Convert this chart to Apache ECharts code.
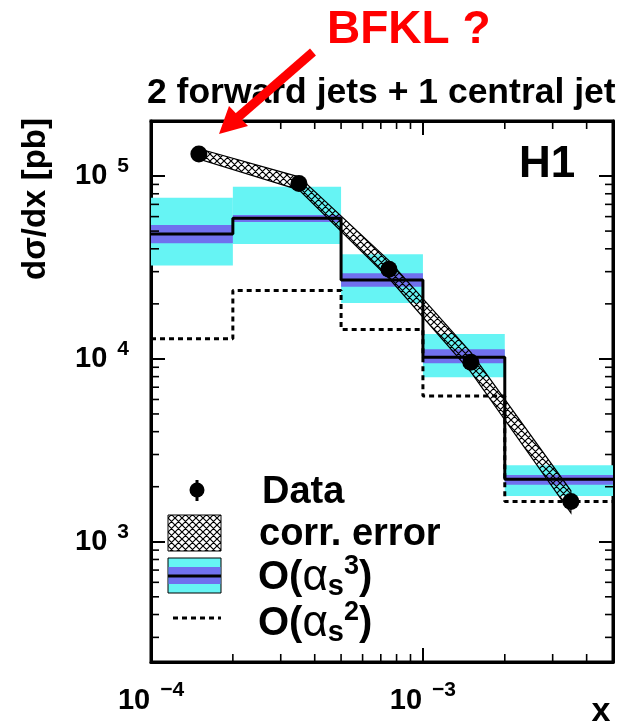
<!DOCTYPE html>
<html>
<head>
<meta charset="utf-8">
<script src="https://cdn.jsdelivr.net/npm/echarts@6/dist/echarts.min.js"></script>
<style>
  html, body { margin: 0; padding: 0; background: #fff; }
  #chart { width: 643px; height: 728px; }
</style>
</head>
<body>
<div id="chart"></div>
<script>
// x bins
var binLow  = [1e-4, 2e-4, 5e-4, 1e-3, 2e-3];
var binHigh = [2e-4, 5e-4, 1e-3, 2e-3, 5e-3];

// H1 data
var dataX = [1.5e-4, 3.5e-4, 7.5e-4, 1.5e-3, 3.5e-3];
var dataY = [1.32e5, 9.1e4, 3.09e4, 9.6e3, 1.66e3];

// correlated error band
var corrLow  = [1.24e5, 8.4e4, 2.76e4, 8.5e3, 1.44e3];
var corrHigh = [1.41e5, 9.9e4, 3.45e4, 1.085e4, 1.90e3];

// O(as^3)
var nlo          = [4.82e4, 5.87e4, 2.70e4, 1.02e4, 2.20e3];
var nloOuterLow  = [3.24e4, 4.25e4, 2.02e4, 7.94e3, 1.78e3];
var nloOuterHigh = [7.61e4, 8.75e4, 3.73e4, 1.37e4, 2.62e3];
var nloInnerLow  = [4.29e4, 5.61e4, 2.48e4, 9.47e3, 2.05e3];
var nloInnerHigh = [5.40e4, 6.12e4, 2.94e4, 1.13e4, 2.32e3];

// O(as^2)
var lo = [1.29e4, 2.37e4, 1.45e4, 6.27e3, 1.66e3];

var xMinorTicks = [2e-4, 3e-4, 4e-4, 5e-4, 6e-4, 7e-4, 8e-4, 9e-4, 2e-3, 3e-3, 4e-3];
var yMinorTicks = [300, 400, 500, 600, 700, 800, 900,
                   2000, 3000, 4000, 5000, 6000, 7000, 8000, 9000,
                   2e4, 3e4, 4e4, 5e4, 6e4, 7e4, 8e4, 9e4];

var X_MIN = 1e-4, X_MAX = 5e-3, Y_MIN = 220, Y_MAX = 2e5;

var FONT = '"Liberation Sans", Arial, Helvetica, sans-serif';
var CYAN = '#66f4f4';
var PURPLE = '#7070ee';

// cross hatch pattern
var hatch = document.createElement('canvas');
hatch.width = 7; hatch.height = 7;
var hc = hatch.getContext('2d');
hc.strokeStyle = '#000';
hc.lineWidth = 1.2;
hc.beginPath();
[-7, 0, 7].forEach(function (k) {
  hc.moveTo(k, 0); hc.lineTo(k + 7, 7);
  hc.moveTo(k + 7, 0); hc.lineTo(k, 7);
});
hc.stroke();
var hatchFill = { image: hatch, repeat: 'repeat' };

function powLabel(v) {
  var e = Math.log10(v);
  if (Math.abs(e - Math.round(e)) > 1e-6) return '';
  e = Math.round(e);
  return '{b|10}{s|' + (e < 0 ? '\u2212' + (-e) : e) + '}';
}

var labelRich = {
  b: { fontSize: 29, fontWeight: 'bold', fontFamily: FONT, color: '#000' },
  s: { fontSize: 21, fontWeight: 'bold', fontFamily: FONT, color: '#000', padding: [0, 0, 20, 10] }
};

function bandRows(lowArr, highArr) {
  return binLow.map(function (x, i) { return [x, binHigh[i], lowArr[i], highArr[i]]; });
}

function renderBand(color) {
  return function (params, api) {
    var p1 = api.coord([api.value(0), api.value(3)]);
    var p2 = api.coord([api.value(1), api.value(2)]);
    return {
      type: 'rect',
      shape: { x: p1[0], y: p1[1], width: p2[0] - p1[0], height: p2[1] - p1[1] },
      style: { fill: color }
    };
  };
}

function stepRows(vals) {
  var rows = binLow.map(function (x, i) { return [x, vals[i]]; });
  rows.push([binHigh[binHigh.length - 1], vals[vals.length - 1]]);
  return rows;
}

function alphaLabel(power) {
  return {
    text: '{n|O(}{g|\u03b1}{sub|s}{sup|' + power + '}{n|)}',
    verticalAlign: 'middle', textVerticalAlign: 'middle',
    rich: {
      n: { fontSize: 40, fontWeight: 'bold', fontFamily: FONT, color: '#000' },
      g: { fontSize: 44, fontFamily: FONT, color: '#000' },
      sub: { fontSize: 29, fontWeight: 'bold', fontFamily: FONT, color: '#000', padding: [18, 0, 0, 0] },
      sup: { fontSize: 27, fontWeight: 'bold', fontFamily: FONT, color: '#000', padding: [0, 0, 22, 0] }
    }
  };
}

var axisLineStyle = { show: true, lineStyle: { color: '#000', width: 3 } };
var majorTick = { show: true, inside: true, length: 14, lineStyle: { color: '#000', width: 2 } };
var tickStyle = { stroke: '#000', lineWidth: 1.6 };

var chart = echarts.init(document.getElementById('chart'));

chart.setOption({
  animation: false,
  backgroundColor: '#fff',
  title: [
    {
      text: 'BFKL ?', left: 327, top: 7, padding: 0,
      textStyle: { color: '#ff0000', fontSize: 46, fontWeight: 'bold', fontFamily: FONT }
    },
    {
      text: '2 forward jets + 1 central jet', left: 147, top: 75, padding: 0,
      textStyle: { color: '#000', fontSize: 35.5, fontWeight: 'bold', fontFamily: FONT }
    }
  ],
  grid: {
    left: 151, top: 121, right: 30, bottom: 66,
    show: true, borderColor: '#000', borderWidth: 3, backgroundColor: 'transparent'
  },
  xAxis: [
    {
      type: 'log', logBase: 10, min: X_MIN, max: X_MAX, position: 'bottom',
      axisLine: axisLineStyle, axisTick: majorTick, splitLine: { show: false },
      axisLabel: { formatter: powLabel, margin: 18, rich: labelRich, showMinLabel: true }
    },
    {
      type: 'log', logBase: 10, min: X_MIN, max: X_MAX, position: 'top',
      axisLine: axisLineStyle, axisTick: majorTick, splitLine: { show: false },
      axisLabel: { show: false }
    }
  ],
  yAxis: [
    {
      type: 'log', logBase: 10, min: Y_MIN, max: Y_MAX, position: 'left',
      axisLine: axisLineStyle, axisTick: majorTick, splitLine: { show: false },
      axisLabel: { formatter: powLabel, margin: 22, rich: labelRich }
    },
    {
      type: 'log', logBase: 10, min: Y_MIN, max: Y_MAX, position: 'right',
      axisLine: axisLineStyle, axisTick: majorTick, splitLine: { show: false },
      axisLabel: { show: false }
    }
  ],
  series: [
    {
      type: 'custom', name: 'nlo outer', data: bandRows(nloOuterLow, nloOuterHigh),
      encode: { x: [0, 1], y: [2, 3] }, renderItem: renderBand(CYAN), z: 1, silent: true
    },
    {
      type: 'custom', name: 'nlo inner', data: bandRows(nloInnerLow, nloInnerHigh),
      encode: { x: [0, 1], y: [2, 3] }, renderItem: renderBand(PURPLE), z: 2, silent: true
    },
    {
      type: 'line', name: 'O(as3)', data: stepRows(nlo), step: 'end', symbol: 'none',
      lineStyle: { color: '#000', width: 3 }, z: 3, silent: true
    },
    {
      type: 'line', name: 'O(as2)', data: stepRows(lo), step: 'end', symbol: 'none',
      lineStyle: { color: '#000', width: 3, type: [5, 4] }, z: 3, silent: true
    },
    {
      type: 'custom', name: 'corr. error',
      data: dataX.map(function (x, i) { return [x, corrLow[i], corrHigh[i]]; }),
      encode: { x: 0, y: [1, 2] }, z: 4, silent: true,
      renderItem: function (params, api) {
        if (params.dataIndex !== 0) return null;
        var upper = [], lower = [];
        for (var i = 0; i < dataX.length; i++) {
          upper.push(api.coord([dataX[i], corrHigh[i]]));
          lower.unshift(api.coord([dataX[i], corrLow[i]]));
        }
        return {
          type: 'polygon',
          shape: { points: upper.concat(lower) },
          style: { fill: hatchFill, stroke: '#000', lineWidth: 1.2 }
        };
      }
    },
    {
      type: 'scatter', name: 'Data',
      data: dataX.map(function (x, i) { return [x, dataY[i]]; }),
      symbol: 'circle', symbolSize: 17, itemStyle: { color: '#000', opacity: 1 }, z: 5, silent: true
    },
    {
      // minor ticks on x (bottom and top)
      type: 'custom', data: xMinorTicks.map(function (v) { return [v, Y_MIN]; }),
      encode: { x: 0, y: 1 }, z: 6, silent: true,
      renderItem: function (params, api) {
        var pb = api.coord([api.value(0), Y_MIN]);
        var pt = api.coord([api.value(0), Y_MAX]);
        return { type: 'group', children: [
          { type: 'line', shape: { x1: pb[0], y1: pb[1], x2: pb[0], y2: pb[1] - 8 }, style: tickStyle },
          { type: 'line', shape: { x1: pt[0], y1: pt[1], x2: pt[0], y2: pt[1] + 8 }, style: tickStyle }
        ] };
      }
    },
    {
      // minor ticks on y (left and right)
      type: 'custom', data: yMinorTicks.map(function (v) { return [X_MIN, v]; }),
      encode: { x: 0, y: 1 }, z: 6, silent: true,
      renderItem: function (params, api) {
        var pl = api.coord([X_MIN, api.value(1)]);
        var pr = api.coord([X_MAX, api.value(1)]);
        return { type: 'group', children: [
          { type: 'line', shape: { x1: pl[0], y1: pl[1], x2: pl[0] + 8, y2: pl[1] }, style: tickStyle },
          { type: 'line', shape: { x1: pr[0], y1: pr[1], x2: pr[0] - 8, y2: pr[1] }, style: tickStyle }
        ] };
      }
    }
  ],
  graphic: [
    // y axis title
    {
      type: 'text', x: 36, y: 199, rotation: Math.PI / 2, z: 10,
      style: {
        text: 'd\u03c3/dx [pb]', font: 'bold 33px ' + FONT, fill: '#000',
        align: 'center', verticalAlign: 'middle', textAlign: 'center', textVerticalAlign: 'middle'
      }
    },
    // x axis title
    {
      type: 'text', x: 601, y: 712, z: 10,
      style: {
        text: 'x', font: 'bold 34px ' + FONT, fill: '#000',
        align: 'center', verticalAlign: 'middle', textAlign: 'center', textVerticalAlign: 'middle'
      }
    },
    // H1
    {
      type: 'text', x: 547, y: 165, z: 10,
      style: {
        text: 'H1', font: 'bold 44px ' + FONT, fill: '#000',
        align: 'center', verticalAlign: 'middle', textAlign: 'center', textVerticalAlign: 'middle'
      }
    },
    // red arrow
    {
      type: 'line', z: 10,
      shape: { x1: 313, y1: 52, x2: 236, y2: 119 },
      style: { stroke: '#ff0000', lineWidth: 9 }
    },
    {
      type: 'polygon', z: 10,
      shape: { points: [[219, 134], [248, 126], [229, 106]] },
      style: { fill: '#ff0000' }
    },
    // legend: Data
    {
      type: 'line', z: 10, shape: { x1: 197, y1: 480, x2: 197, y2: 501 },
      style: { stroke: '#000', lineWidth: 3 }
    },
    {
      type: 'circle', z: 10, shape: { cx: 197, cy: 490, r: 7.5 }, style: { fill: '#000' }
    },
    {
      type: 'text', x: 262, y: 493, z: 10,
      style: { text: 'Data', font: 'bold 38px ' + FONT, fill: '#000', verticalAlign: 'middle', textVerticalAlign: 'middle' }
    },
    // legend: corr. error
    {
      type: 'rect', z: 10, shape: { x: 168, y: 515, width: 53, height: 36 },
      style: { fill: hatchFill, stroke: '#000', lineWidth: 1 }
    },
    {
      type: 'text', x: 259, y: 535, z: 10,
      style: { text: 'corr. error', font: 'bold 38px ' + FONT, fill: '#000', verticalAlign: 'middle', textVerticalAlign: 'middle' }
    },
    // legend: O(as^3)
    {
      type: 'rect', z: 10, shape: { x: 168, y: 558, width: 53, height: 35 },
      style: { fill: CYAN, stroke: '#000', lineWidth: 1 }
    },
    {
      type: 'rect', z: 10, shape: { x: 168.5, y: 567, width: 52, height: 17 },
      style: { fill: PURPLE }
    },
    {
      type: 'line', z: 10, shape: { x1: 168, y1: 576, x2: 221, y2: 576 },
      style: { stroke: '#000', lineWidth: 3 }
    },
    { type: 'text', x: 258, y: 578, z: 10, style: alphaLabel(3) },
    // legend: O(as^2)
    {
      type: 'line', z: 10, shape: { x1: 173, y1: 618, x2: 221, y2: 618 },
      style: { stroke: '#000', lineWidth: 3, lineDash: [5, 4] }
    },
    { type: 'text', x: 258, y: 624, z: 10, style: alphaLabel(2) }
  ]
});
</script>
</body>
</html>
